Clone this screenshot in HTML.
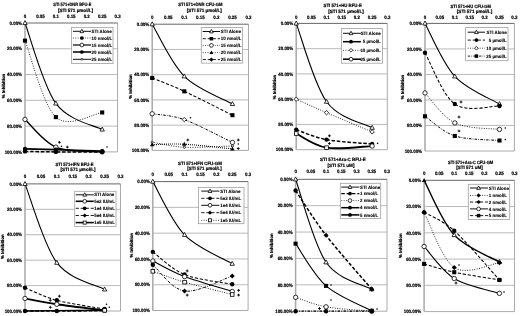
<!DOCTYPE html>
<html><head><meta charset="utf-8"><style>
html,body{margin:0;padding:0;background:#fff;}
svg{display:block;will-change:transform;}
text{font-family:"Liberation Sans", sans-serif;text-rendering:geometricPrecision;fill:#000;stroke:#000;stroke-width:0.2px;}
svg{filter:blur(0.3px);}
text.lg{stroke-width:0.1px;}
</style></head><body>
<svg width="520" height="316" viewBox="0 0 520 316">
<rect width="520" height="316" fill="#fff"/>
<text x="22" y="24.7" text-anchor="end" font-size="4.8" font-weight="bold" textLength="12.47" lengthAdjust="spacingAndGlyphs">0.00%</text>
<text x="22" y="50.48" text-anchor="end" font-size="4.8" font-weight="bold" textLength="14.92" lengthAdjust="spacingAndGlyphs">20.00%</text>
<line x1="25" y1="48.78" x2="117.6" y2="48.78" stroke="#a8a8a8" stroke-width="0.8"/>
<text x="22" y="76.26" text-anchor="end" font-size="4.8" font-weight="bold" textLength="14.92" lengthAdjust="spacingAndGlyphs">40.00%</text>
<line x1="25" y1="74.56" x2="117.6" y2="74.56" stroke="#a8a8a8" stroke-width="0.8"/>
<text x="22" y="102.04" text-anchor="end" font-size="4.8" font-weight="bold" textLength="14.92" lengthAdjust="spacingAndGlyphs">60.00%</text>
<line x1="25" y1="100.34" x2="117.6" y2="100.34" stroke="#a8a8a8" stroke-width="0.8"/>
<text x="22" y="127.82" text-anchor="end" font-size="4.8" font-weight="bold" textLength="14.92" lengthAdjust="spacingAndGlyphs">80.00%</text>
<line x1="25" y1="126.12" x2="117.6" y2="126.12" stroke="#a8a8a8" stroke-width="0.8"/>
<text x="22" y="153.6" text-anchor="end" font-size="4.8" font-weight="bold" textLength="17.37" lengthAdjust="spacingAndGlyphs">100.00%</text>
<path d="M117.6,23V151.9H25" fill="none" stroke="#a0a0a0" stroke-width="0.9"/>
<line x1="25" y1="23" x2="25" y2="151.9" stroke="#a8a8a8" stroke-width="1.5"/>
<line x1="25" y1="23" x2="117.6" y2="23" stroke="#555" stroke-width="0.9"/>
<text x="25" y="18.2" text-anchor="middle" font-size="4.8" font-weight="bold" textLength="2.45" lengthAdjust="spacingAndGlyphs">0</text>
<text x="40.43" y="18.2" text-anchor="middle" font-size="4.8" font-weight="bold" textLength="8.56" lengthAdjust="spacingAndGlyphs">0.05</text>
<text x="55.87" y="18.2" text-anchor="middle" font-size="4.8" font-weight="bold" textLength="6.12" lengthAdjust="spacingAndGlyphs">0.1</text>
<text x="71.3" y="18.2" text-anchor="middle" font-size="4.8" font-weight="bold" textLength="8.56" lengthAdjust="spacingAndGlyphs">0.15</text>
<text x="86.73" y="18.2" text-anchor="middle" font-size="4.8" font-weight="bold" textLength="6.12" lengthAdjust="spacingAndGlyphs">0.2</text>
<text x="102.17" y="18.2" text-anchor="middle" font-size="4.8" font-weight="bold" textLength="8.56" lengthAdjust="spacingAndGlyphs">0.25</text>
<text x="117.6" y="18.2" text-anchor="middle" font-size="4.8" font-weight="bold" textLength="6.12" lengthAdjust="spacingAndGlyphs">0.3</text>
<text x="53.3" y="6.25" text-anchor="start" font-size="4.7" font-weight="bold" textLength="38" lengthAdjust="spacingAndGlyphs">STI 571+DNR BFU-E</text>
<text x="57.9" y="12.05" text-anchor="start" font-size="4.7" font-weight="bold" textLength="35.1" lengthAdjust="spacingAndGlyphs">[STI 571 µmol/L]</text>
<text x="0" y="0" text-anchor="middle" font-size="4.4" font-weight="bold" textLength="24.5" lengthAdjust="spacingAndGlyphs" transform="translate(5.1,86) rotate(-90)">% Inhibition</text>
<path d="M25,23 C30.14,36.41 43.01,85.69 55.87,103.43 C68.73,121.18 94.45,125.13 102.17,129.47" fill="none" stroke="#000" stroke-width="1.1" stroke-linecap="butt"/>
<path d="M25,40.66 C30.14,53.4 43.01,105.13 55.87,117.1 C68.73,129.06 94.45,113.23 102.17,112.46" fill="none" stroke="#000" stroke-width="0.9" stroke-dasharray="0.9 1.5" stroke-linecap="butt"/>
<path d="M25,119.42 C30.14,124.04 43.01,141.72 55.87,147.13 C68.73,152.54 94.45,151.11 102.17,151.9" fill="none" stroke="#000" stroke-width="1.4" stroke-linecap="butt"/>
<path d="M25,148.94 C30.14,149.06 43.01,149.34 55.87,149.71 C68.73,150.07 94.45,150.89 102.17,151.13" fill="none" stroke="#000" stroke-width="1.8" stroke-linecap="butt"/>
<path d="M25,151.38 C30.14,151.47 43.01,151.81 55.87,151.9 C68.73,151.99 94.45,151.9 102.17,151.9" fill="none" stroke="#000" stroke-width="1.5" stroke-dasharray="3.5 1.8" stroke-linecap="butt"/>
<path d="M25,20.6 L27.2,24.6 L22.8,24.6Z" fill="#fff" stroke="#000" stroke-width="0.8"/>
<path d="M55.87,101.03 L58.07,105.03 L53.67,105.03Z" fill="#fff" stroke="#000" stroke-width="0.8"/>
<path d="M102.17,127.07 L104.37,131.07 L99.97,131.07Z" fill="#fff" stroke="#000" stroke-width="0.8"/>
<rect x="22.95" y="38.61" width="4.1" height="4.1" fill="#000"/>
<rect x="53.82" y="115.05" width="4.1" height="4.1" fill="#000"/>
<rect x="100.12" y="110.41" width="4.1" height="4.1" fill="#000"/>
<circle cx="25" cy="119.42" r="2.2" fill="#fff" stroke="#000" stroke-width="0.8"/>
<circle cx="55.87" cy="147.13" r="2.2" fill="#fff" stroke="#000" stroke-width="0.8"/>
<circle cx="102.17" cy="151.9" r="2.2" fill="#fff" stroke="#000" stroke-width="0.8"/>
<circle cx="25" cy="148.94" r="2.2" fill="#000"/>
<circle cx="55.87" cy="149.71" r="2.2" fill="#000"/>
<circle cx="102.17" cy="151.13" r="2.2" fill="#000"/>
<circle cx="25" cy="151.38" r="2.2" fill="#000"/>
<circle cx="55.87" cy="151.9" r="2.2" fill="#000"/>
<circle cx="102.17" cy="151.9" r="2.2" fill="#000"/>
<path d="M58,142.3H60.8M59.4,140.9V143.7" stroke="#000" stroke-width="0.9"/>
<path d="M65.9,147.1H68.7M67.3,145.7V148.5" stroke="#000" stroke-width="0.9"/>
<circle cx="61.5" cy="146.3" r="0.8" fill="#000"/>
<circle cx="107" cy="147" r="0.8" fill="#000"/>
<rect x="71.4" y="27.4" width="41.6" height="36.1" fill="#fff" stroke="#a0a0a0" stroke-width="0.8"/>
<path d="M72.9,31.3H91" fill="none" stroke="#000" stroke-width="0.94" stroke-linecap="butt"/>
<path d="M81.9,29.26 L83.77,32.66 L80.03,32.66Z" fill="#fff" stroke="#000" stroke-width="0.8"/>
<text x="91.6" y="32.95" text-anchor="start" font-size="4.75" font-weight="bold" class="lg" textLength="20.13" lengthAdjust="spacingAndGlyphs">STI Alone</text>
<path d="M72.9,38H91" fill="none" stroke="#000" stroke-width="0.77" stroke-dasharray="0.9 1.5" stroke-linecap="butt"/>
<circle cx="81.9" cy="38" r="1.87" fill="#000"/>
<text x="91.6" y="39.65" text-anchor="start" font-size="4.75" font-weight="bold" class="lg" textLength="20.54" lengthAdjust="spacingAndGlyphs">10 nmol/L</text>
<path d="M72.9,45H91" fill="none" stroke="#000" stroke-width="1.19" stroke-linecap="butt"/>
<circle cx="81.9" cy="45" r="1.87" fill="#fff" stroke="#000" stroke-width="0.8"/>
<text x="91.6" y="46.65" text-anchor="start" font-size="4.75" font-weight="bold" class="lg" textLength="20.54" lengthAdjust="spacingAndGlyphs">15 nmol/L</text>
<path d="M72.9,52H91" fill="none" stroke="#000" stroke-width="1.53" stroke-linecap="butt"/>
<circle cx="81.9" cy="52" r="1.87" fill="#000"/>
<text x="91.6" y="53.65" text-anchor="start" font-size="4.75" font-weight="bold" class="lg" textLength="20.54" lengthAdjust="spacingAndGlyphs">20 nmol/L</text>
<path d="M72.9,59.3H91" fill="none" stroke="#000" stroke-width="0.94" stroke-linecap="butt"/>
<circle cx="81.9" cy="59.3" r="0.94" fill="#fff" stroke="#000" stroke-width="0.7"/>
<text x="91.6" y="60.95" text-anchor="start" font-size="4.75" font-weight="bold" class="lg" textLength="20.54" lengthAdjust="spacingAndGlyphs">25 nmol/L</text>
<text x="149.2" y="25.9" text-anchor="end" font-size="4.8" font-weight="bold" textLength="12.47" lengthAdjust="spacingAndGlyphs">0.00%</text>
<text x="149.2" y="51.14" text-anchor="end" font-size="4.8" font-weight="bold" textLength="14.92" lengthAdjust="spacingAndGlyphs">20.00%</text>
<line x1="152.2" y1="49.44" x2="248.5" y2="49.44" stroke="#a8a8a8" stroke-width="0.8"/>
<text x="149.2" y="76.38" text-anchor="end" font-size="4.8" font-weight="bold" textLength="14.92" lengthAdjust="spacingAndGlyphs">40.00%</text>
<line x1="152.2" y1="74.68" x2="248.5" y2="74.68" stroke="#a8a8a8" stroke-width="0.8"/>
<text x="149.2" y="101.62" text-anchor="end" font-size="4.8" font-weight="bold" textLength="14.92" lengthAdjust="spacingAndGlyphs">60.00%</text>
<line x1="152.2" y1="99.92" x2="248.5" y2="99.92" stroke="#a8a8a8" stroke-width="0.8"/>
<text x="149.2" y="126.86" text-anchor="end" font-size="4.8" font-weight="bold" textLength="14.92" lengthAdjust="spacingAndGlyphs">80.00%</text>
<line x1="152.2" y1="125.16" x2="248.5" y2="125.16" stroke="#a8a8a8" stroke-width="0.8"/>
<text x="149.2" y="152.1" text-anchor="end" font-size="4.8" font-weight="bold" textLength="17.37" lengthAdjust="spacingAndGlyphs">100.00%</text>
<path d="M248.5,24.2V150.4H152.2" fill="none" stroke="#a0a0a0" stroke-width="0.9"/>
<line x1="152.2" y1="24.2" x2="152.2" y2="150.4" stroke="#a8a8a8" stroke-width="1.5"/>
<line x1="152.2" y1="24.2" x2="248.5" y2="24.2" stroke="#555" stroke-width="0.9"/>
<text x="152.2" y="18.9" text-anchor="middle" font-size="4.8" font-weight="bold" textLength="2.45" lengthAdjust="spacingAndGlyphs">0</text>
<text x="168.25" y="18.9" text-anchor="middle" font-size="4.8" font-weight="bold" textLength="8.56" lengthAdjust="spacingAndGlyphs">0.05</text>
<text x="184.3" y="18.9" text-anchor="middle" font-size="4.8" font-weight="bold" textLength="6.12" lengthAdjust="spacingAndGlyphs">0.1</text>
<text x="200.35" y="18.9" text-anchor="middle" font-size="4.8" font-weight="bold" textLength="8.56" lengthAdjust="spacingAndGlyphs">0.15</text>
<text x="216.4" y="18.9" text-anchor="middle" font-size="4.8" font-weight="bold" textLength="6.12" lengthAdjust="spacingAndGlyphs">0.2</text>
<text x="232.45" y="18.9" text-anchor="middle" font-size="4.8" font-weight="bold" textLength="8.56" lengthAdjust="spacingAndGlyphs">0.25</text>
<text x="248.5" y="18.9" text-anchor="middle" font-size="4.8" font-weight="bold" textLength="6.12" lengthAdjust="spacingAndGlyphs">0.3</text>
<text x="178.3" y="6.05" text-anchor="start" font-size="4.7" font-weight="bold" textLength="44.2" lengthAdjust="spacingAndGlyphs">STI 571+DNR CFU-GM</text>
<text x="186.8" y="11.75" text-anchor="start" font-size="4.7" font-weight="bold" textLength="35" lengthAdjust="spacingAndGlyphs">[STI 571 µmol/L]</text>
<text x="0" y="0" text-anchor="middle" font-size="4.4" font-weight="bold" textLength="24.5" lengthAdjust="spacingAndGlyphs" transform="translate(132.4,86.5) rotate(-90)">% Inhibition</text>
<path d="M152.2,24.2 C157.55,32.89 170.93,63.03 184.3,76.32 C197.68,89.61 224.42,99.35 232.45,103.96" fill="none" stroke="#000" stroke-width="1.1" stroke-linecap="butt"/>
<path d="M152.2,77.96 C157.55,80.19 170.93,85.13 184.3,91.34 C197.68,97.54 224.42,111.21 232.45,115.19" fill="none" stroke="#000" stroke-width="1.05" stroke-dasharray="3.2 1.8" stroke-linecap="butt"/>
<path d="M152.2,113.8 C157.55,114.77 170.93,114.83 184.3,119.61 C197.68,124.38 224.42,138.64 232.45,142.45" fill="none" stroke="#000" stroke-width="1" stroke-dasharray="2.5 1.2 0.7 1.2" stroke-linecap="butt"/>

<path d="M152.2,142.2 C157.55,143.04 170.93,146.61 184.3,147.25 C197.68,147.88 224.42,146.19 232.45,145.98" fill="none" stroke="#000" stroke-width="0.9" stroke-dasharray="0.9 1.5" stroke-linecap="butt"/>
<path d="M152.2,144.72 C157.55,144.64 170.93,143.52 184.3,144.22 C197.68,144.91 224.42,148.11 232.45,148.89" fill="none" stroke="#000" stroke-width="1.2" stroke-dasharray="0.9 1.1" stroke-linecap="butt"/>
<path d="M152.2,21.8 L154.4,25.8 L150,25.8Z" fill="#fff" stroke="#000" stroke-width="0.8"/>
<path d="M184.3,73.92 L186.5,77.92 L182.1,77.92Z" fill="#fff" stroke="#000" stroke-width="0.8"/>
<path d="M232.45,101.56 L234.65,105.56 L230.25,105.56Z" fill="#fff" stroke="#000" stroke-width="0.8"/>
<rect x="150.15" y="75.91" width="4.1" height="4.1" fill="#000"/>
<rect x="182.25" y="89.29" width="4.1" height="4.1" fill="#000"/>
<rect x="230.4" y="113.14" width="4.1" height="4.1" fill="#000"/>
<circle cx="152.2" cy="113.8" r="2.2" fill="#fff" stroke="#000" stroke-width="0.8"/>
<circle cx="232.45" cy="142.45" r="2.2" fill="#fff" stroke="#000" stroke-width="0.8"/>
<path d="M184.3,117.41 L186.5,119.61 L184.3,121.81 L182.1,119.61Z" fill="#fff" stroke="#000" stroke-width="0.8"/>
<circle cx="152.2" cy="142.2" r="1.1" fill="#fff" stroke="#000" stroke-width="0.7"/>
<circle cx="184.3" cy="147.25" r="1.1" fill="#fff" stroke="#000" stroke-width="0.7"/>
<circle cx="232.45" cy="145.98" r="1.1" fill="#fff" stroke="#000" stroke-width="0.7"/>
<path d="M152.2,142.32 L154.4,146.32 L150,146.32Z" fill="#000"/>
<path d="M184.3,141.82 L186.5,145.82 L182.1,145.82Z" fill="#000"/>
<path d="M232.45,146.49 L234.65,150.49 L230.25,150.49Z" fill="#000"/>
<path d="M186.4,140H189.2M187.8,138.6V141.4" stroke="#000" stroke-width="0.9"/>
<path d="M236.9,140H239.7M238.3,138.6V141.4" stroke="#000" stroke-width="0.9"/>
<path d="M236.9,148.5H239.7M238.3,147.1V149.9" stroke="#000" stroke-width="0.9"/>
<circle cx="238.3" cy="144" r="0.8" fill="#000"/>
<circle cx="190.5" cy="117.8" r="0.8" fill="#000"/>
<rect x="201.3" y="27.6" width="41.3" height="35.5" fill="#fff" stroke="#a0a0a0" stroke-width="0.8"/>
<path d="M202.7,31.5H220" fill="none" stroke="#000" stroke-width="0.94" stroke-linecap="butt"/>
<path d="M211.4,29.46 L213.27,32.86 L209.53,32.86Z" fill="#fff" stroke="#000" stroke-width="0.8"/>
<text x="220.8" y="33.15" text-anchor="start" font-size="4.75" font-weight="bold" class="lg" textLength="20.13" lengthAdjust="spacingAndGlyphs">STI Alone</text>
<path d="M202.7,38.7H220" fill="none" stroke="#000" stroke-width="0.89" stroke-dasharray="3.2 1.8" stroke-linecap="butt"/>
<rect x="209.66" y="36.96" width="3.48" height="3.48" fill="#000"/>
<text x="220.8" y="40.35" text-anchor="start" font-size="4.75" font-weight="bold" class="lg" textLength="20.54" lengthAdjust="spacingAndGlyphs">10 nmol/L</text>
<path d="M202.7,45.4H220" fill="none" stroke="#000" stroke-width="0.77" stroke-dasharray="0.9 1.5" stroke-linecap="butt"/>
<circle cx="211.4" cy="45.4" r="1.87" fill="#fff" stroke="#000" stroke-width="0.8"/>
<text x="220.8" y="47.05" text-anchor="start" font-size="4.75" font-weight="bold" class="lg" textLength="20.54" lengthAdjust="spacingAndGlyphs">15 nmol/L</text>
<path d="M202.7,52.6H220" fill="none" stroke="#000" stroke-width="0.77" stroke-dasharray="0.9 1.5" stroke-linecap="butt"/>
<path d="M211.4,50.56 L213.27,53.96 L209.53,53.96Z" fill="#000"/>
<text x="220.8" y="54.25" text-anchor="start" font-size="4.75" font-weight="bold" class="lg" textLength="20.54" lengthAdjust="spacingAndGlyphs">20 nmol/L</text>
<path d="M202.7,59.6H220" fill="none" stroke="#000" stroke-width="0.89" stroke-dasharray="3.2 1.8" stroke-linecap="butt"/>
<path d="M211.4,57.48 L213.53,59.6 L211.4,61.73 L209.28,59.6Z" fill="#000"/>
<text x="220.8" y="61.25" text-anchor="start" font-size="4.75" font-weight="bold" class="lg" textLength="20.54" lengthAdjust="spacingAndGlyphs">25 nmol/L</text>
<text x="293.2" y="25.1" text-anchor="end" font-size="4.8" font-weight="bold" textLength="12.47" lengthAdjust="spacingAndGlyphs">0.00%</text>
<text x="293.2" y="50.36" text-anchor="end" font-size="4.8" font-weight="bold" textLength="14.92" lengthAdjust="spacingAndGlyphs">20.00%</text>
<line x1="296.2" y1="48.66" x2="387.3" y2="48.66" stroke="#a8a8a8" stroke-width="0.8"/>
<text x="293.2" y="75.62" text-anchor="end" font-size="4.8" font-weight="bold" textLength="14.92" lengthAdjust="spacingAndGlyphs">40.00%</text>
<line x1="296.2" y1="73.92" x2="387.3" y2="73.92" stroke="#a8a8a8" stroke-width="0.8"/>
<text x="293.2" y="100.88" text-anchor="end" font-size="4.8" font-weight="bold" textLength="14.92" lengthAdjust="spacingAndGlyphs">60.00%</text>
<line x1="296.2" y1="99.18" x2="387.3" y2="99.18" stroke="#a8a8a8" stroke-width="0.8"/>
<text x="293.2" y="126.14" text-anchor="end" font-size="4.8" font-weight="bold" textLength="14.92" lengthAdjust="spacingAndGlyphs">80.00%</text>
<line x1="296.2" y1="124.44" x2="387.3" y2="124.44" stroke="#a8a8a8" stroke-width="0.8"/>
<text x="293.2" y="151.4" text-anchor="end" font-size="4.8" font-weight="bold" textLength="17.37" lengthAdjust="spacingAndGlyphs">100.00%</text>
<path d="M387.3,23.4V149.7H296.2" fill="none" stroke="#a0a0a0" stroke-width="0.9"/>
<line x1="296.2" y1="23.4" x2="296.2" y2="149.7" stroke="#a8a8a8" stroke-width="1.5"/>
<line x1="296.2" y1="23.4" x2="387.3" y2="23.4" stroke="#555" stroke-width="0.9"/>
<text x="296.2" y="18.5" text-anchor="middle" font-size="4.8" font-weight="bold" textLength="2.45" lengthAdjust="spacingAndGlyphs">0</text>
<text x="311.38" y="18.5" text-anchor="middle" font-size="4.8" font-weight="bold" textLength="8.56" lengthAdjust="spacingAndGlyphs">0.05</text>
<text x="326.57" y="18.5" text-anchor="middle" font-size="4.8" font-weight="bold" textLength="6.12" lengthAdjust="spacingAndGlyphs">0.1</text>
<text x="341.75" y="18.5" text-anchor="middle" font-size="4.8" font-weight="bold" textLength="8.56" lengthAdjust="spacingAndGlyphs">0.15</text>
<text x="356.93" y="18.5" text-anchor="middle" font-size="4.8" font-weight="bold" textLength="6.12" lengthAdjust="spacingAndGlyphs">0.2</text>
<text x="372.12" y="18.5" text-anchor="middle" font-size="4.8" font-weight="bold" textLength="8.56" lengthAdjust="spacingAndGlyphs">0.25</text>
<text x="387.3" y="18.5" text-anchor="middle" font-size="4.8" font-weight="bold" textLength="6.12" lengthAdjust="spacingAndGlyphs">0.3</text>
<text x="323.5" y="7.35" text-anchor="start" font-size="4.7" font-weight="bold" textLength="38.3" lengthAdjust="spacingAndGlyphs">STI 571+HU BFU-E</text>
<text x="328.2" y="13.45" text-anchor="start" font-size="4.7" font-weight="bold" textLength="35.6" lengthAdjust="spacingAndGlyphs">[STI 571 µmol/L]</text>
<text x="0" y="0" text-anchor="middle" font-size="4.4" font-weight="bold" textLength="24.5" lengthAdjust="spacingAndGlyphs" transform="translate(276,87) rotate(-90)">% Inhibition</text>
<path d="M296.2,23.4 C301.26,36.45 313.91,84.32 326.57,101.71 C339.22,119.09 364.52,123.39 372.12,127.72" fill="none" stroke="#000" stroke-width="1.1" stroke-linecap="butt"/>
<path d="M296.2,99.18 C301.26,101.43 313.91,107.24 326.57,112.69 C339.22,118.15 364.52,128.69 372.12,131.89" fill="none" stroke="#000" stroke-width="0.9" stroke-dasharray="0.9 1.5" stroke-linecap="butt"/>
<path d="M296.2,129.62 C301.26,131.28 313.91,137.2 326.57,139.6 C339.22,142 364.52,143.28 372.12,144.02" fill="none" stroke="#000" stroke-width="1.5" stroke-dasharray="3.5 1.8" stroke-linecap="butt"/>
<path d="M296.2,133.53 C301.26,135.89 313.91,145.6 326.57,147.68 C339.22,149.76 364.52,146.31 372.12,146.04" fill="none" stroke="#000" stroke-width="1.8" stroke-linecap="butt"/>

<path d="M296.2,21 L298.4,25 L294,25Z" fill="#fff" stroke="#000" stroke-width="0.8"/>
<path d="M326.57,99.31 L328.77,103.31 L324.37,103.31Z" fill="#fff" stroke="#000" stroke-width="0.8"/>
<path d="M372.12,125.32 L374.32,129.32 L369.92,129.32Z" fill="#fff" stroke="#000" stroke-width="0.8"/>
<path d="M296.2,96.98 L298.4,99.18 L296.2,101.38 L294,99.18Z" fill="#fff" stroke="#000" stroke-width="0.8"/>
<path d="M326.57,110.49 L328.77,112.69 L326.57,114.89 L324.37,112.69Z" fill="#fff" stroke="#000" stroke-width="0.8"/>
<path d="M372.12,129.69 L374.32,131.89 L372.12,134.09 L369.92,131.89Z" fill="#fff" stroke="#000" stroke-width="0.8"/>
<circle cx="296.2" cy="129.62" r="2.2" fill="#000"/>
<circle cx="326.57" cy="139.6" r="2.2" fill="#000"/>
<circle cx="372.12" cy="144.02" r="2.2" fill="#000"/>
<rect x="294.4" y="131.73" width="3.6" height="3.6" fill="#fff" stroke="#000" stroke-width="0.8"/>
<rect x="324.77" y="145.88" width="3.6" height="3.6" fill="#fff" stroke="#000" stroke-width="0.8"/>
<circle cx="372.12" cy="146.04" r="2.2" fill="#fff" stroke="#000" stroke-width="0.8"/>
<path d="M328,135.8H330.8M329.4,134.4V137.2" stroke="#000" stroke-width="0.9"/>
<path d="M328,143.5H330.8M329.4,142.1V144.9" stroke="#000" stroke-width="0.9"/>
<circle cx="377.6" cy="143.4" r="0.8" fill="#000"/>
<rect x="341.4" y="28.6" width="41.1" height="34.6" fill="#fff" stroke="#a0a0a0" stroke-width="0.8"/>
<path d="M343,33.3H360.9" fill="none" stroke="#000" stroke-width="0.94" stroke-linecap="butt"/>
<path d="M351,31.26 L352.87,34.66 L349.13,34.66Z" fill="#fff" stroke="#000" stroke-width="0.8"/>
<text x="380.8" y="34.95" text-anchor="end" font-size="4.75" font-weight="bold" class="lg" textLength="20.13" lengthAdjust="spacingAndGlyphs">STI Alone</text>
<path d="M343,41.7H360.9" fill="none" stroke="#000" stroke-width="1.53" stroke-linecap="butt"/>
<circle cx="351" cy="41.7" r="1.87" fill="#000"/>
<text x="380.8" y="43.35" text-anchor="end" font-size="4.75" font-weight="bold" class="lg" textLength="17.94" lengthAdjust="spacingAndGlyphs">5 µmol/L</text>
<path d="M343,50.3H360.9" fill="none" stroke="#000" stroke-width="0.77" stroke-dasharray="0.9 1.5" stroke-linecap="butt"/>
<path d="M351,48.43 L352.87,50.3 L351,52.17 L349.13,50.3Z" fill="#fff" stroke="#000" stroke-width="0.8"/>
<text x="380.8" y="51.95" text-anchor="end" font-size="4.75" font-weight="bold" class="lg" textLength="20.38" lengthAdjust="spacingAndGlyphs">10 µmol/L</text>
<path d="M343,59.2H360.9" fill="none" stroke="#000" stroke-width="1.53" stroke-linecap="butt"/>
<circle cx="351" cy="59.2" r="1.87" fill="#fff" stroke="#000" stroke-width="0.8"/>
<text x="380.8" y="60.85" text-anchor="end" font-size="4.75" font-weight="bold" class="lg" textLength="20.38" lengthAdjust="spacingAndGlyphs">25 µmol/L</text>
<text x="422" y="25.1" text-anchor="end" font-size="4.8" font-weight="bold" textLength="12.47" lengthAdjust="spacingAndGlyphs">0.00%</text>
<text x="422" y="50.62" text-anchor="end" font-size="4.8" font-weight="bold" textLength="14.92" lengthAdjust="spacingAndGlyphs">20.00%</text>
<line x1="425" y1="48.92" x2="514.4" y2="48.92" stroke="#a8a8a8" stroke-width="0.8"/>
<text x="422" y="76.14" text-anchor="end" font-size="4.8" font-weight="bold" textLength="14.92" lengthAdjust="spacingAndGlyphs">40.00%</text>
<line x1="425" y1="74.44" x2="514.4" y2="74.44" stroke="#a8a8a8" stroke-width="0.8"/>
<text x="422" y="101.66" text-anchor="end" font-size="4.8" font-weight="bold" textLength="14.92" lengthAdjust="spacingAndGlyphs">60.00%</text>
<line x1="425" y1="99.96" x2="514.4" y2="99.96" stroke="#a8a8a8" stroke-width="0.8"/>
<text x="422" y="127.18" text-anchor="end" font-size="4.8" font-weight="bold" textLength="14.92" lengthAdjust="spacingAndGlyphs">80.00%</text>
<line x1="425" y1="125.48" x2="514.4" y2="125.48" stroke="#a8a8a8" stroke-width="0.8"/>
<text x="422" y="152.7" text-anchor="end" font-size="4.8" font-weight="bold" textLength="17.37" lengthAdjust="spacingAndGlyphs">100.00%</text>
<path d="M514.4,23.4V151H425" fill="none" stroke="#a0a0a0" stroke-width="0.9"/>
<line x1="425" y1="23.4" x2="425" y2="151" stroke="#a8a8a8" stroke-width="1.5"/>
<line x1="425" y1="23.4" x2="514.4" y2="23.4" stroke="#555" stroke-width="0.9"/>
<text x="425" y="18.5" text-anchor="middle" font-size="4.8" font-weight="bold" textLength="2.45" lengthAdjust="spacingAndGlyphs">0</text>
<text x="439.9" y="18.5" text-anchor="middle" font-size="4.8" font-weight="bold" textLength="8.56" lengthAdjust="spacingAndGlyphs">0.05</text>
<text x="454.8" y="18.5" text-anchor="middle" font-size="4.8" font-weight="bold" textLength="6.12" lengthAdjust="spacingAndGlyphs">0.1</text>
<text x="469.7" y="18.5" text-anchor="middle" font-size="4.8" font-weight="bold" textLength="8.56" lengthAdjust="spacingAndGlyphs">0.15</text>
<text x="484.6" y="18.5" text-anchor="middle" font-size="4.8" font-weight="bold" textLength="6.12" lengthAdjust="spacingAndGlyphs">0.2</text>
<text x="499.5" y="18.5" text-anchor="middle" font-size="4.8" font-weight="bold" textLength="8.56" lengthAdjust="spacingAndGlyphs">0.25</text>
<text x="514.4" y="18.5" text-anchor="middle" font-size="4.8" font-weight="bold" textLength="6.12" lengthAdjust="spacingAndGlyphs">0.3</text>
<text x="450.5" y="7.75" text-anchor="start" font-size="4.7" font-weight="bold" textLength="40.4" lengthAdjust="spacingAndGlyphs">STI 571+HU CFU-GM</text>
<text x="456.8" y="13.45" text-anchor="start" font-size="4.7" font-weight="bold" textLength="35.4" lengthAdjust="spacingAndGlyphs">[STI 571 µmol/L]</text>
<text x="0" y="0" text-anchor="middle" font-size="4.4" font-weight="bold" textLength="24.5" lengthAdjust="spacingAndGlyphs" transform="translate(404.1,87) rotate(-90)">% Inhibition</text>
<path d="M425,23.4 C429.97,32.23 442.38,62.91 454.8,76.35 C467.22,89.79 492.05,99.43 499.5,104.04" fill="none" stroke="#000" stroke-width="1.1" stroke-linecap="butt"/>
<path d="M425,52.75 C429.97,61.3 442.38,95.17 454.8,104.04 C467.22,112.91 492.05,105.64 499.5,105.96" fill="none" stroke="#000" stroke-width="1.05" stroke-dasharray="3.2 1.8" stroke-linecap="butt"/>
<path d="M425,92.94 C429.97,97.94 442.38,116.85 454.8,122.93 C467.22,129.01 492.05,128.35 499.5,129.44" fill="none" stroke="#000" stroke-width="0.9" stroke-dasharray="0.9 1.5" stroke-linecap="butt"/>
<path d="M425,116.29 C429.97,119.57 442.38,131.9 454.8,135.94 C467.22,139.98 492.05,139.77 499.5,140.54" fill="none" stroke="#000" stroke-width="1" stroke-dasharray="2.5 1.2 0.7 1.2" stroke-linecap="butt"/>
<path d="M425,21 L427.2,25 L422.8,25Z" fill="#fff" stroke="#000" stroke-width="0.8"/>
<path d="M454.8,73.95 L457,77.95 L452.6,77.95Z" fill="#fff" stroke="#000" stroke-width="0.8"/>
<path d="M499.5,101.64 L501.7,105.64 L497.3,105.64Z" fill="#fff" stroke="#000" stroke-width="0.8"/>
<circle cx="425" cy="52.75" r="2.2" fill="#000"/>
<circle cx="454.8" cy="104.04" r="2.2" fill="#000"/>
<circle cx="499.5" cy="105.96" r="2.2" fill="#000"/>
<circle cx="425" cy="92.94" r="2.2" fill="#fff" stroke="#000" stroke-width="0.8"/>
<circle cx="454.8" cy="122.93" r="2.2" fill="#fff" stroke="#000" stroke-width="0.8"/>
<circle cx="499.5" cy="129.44" r="2.2" fill="#fff" stroke="#000" stroke-width="0.8"/>
<rect x="422.95" y="114.24" width="4.1" height="4.1" fill="#000"/>
<rect x="452.75" y="133.89" width="4.1" height="4.1" fill="#000"/>
<rect x="497.45" y="138.49" width="4.1" height="4.1" fill="#000"/>
<path d="M459.6,102H462.4M461,100.6V103.4" stroke="#000" stroke-width="0.9"/>
<path d="M457.6,117H460.4M459,115.6V118.4" stroke="#000" stroke-width="0.9"/>
<path d="M457.6,131H460.4M459,129.6V132.4" stroke="#000" stroke-width="0.9"/>
<circle cx="505.3" cy="128" r="0.8" fill="#000"/>
<circle cx="505.3" cy="139.5" r="0.8" fill="#000"/>
<rect x="465.6" y="27.6" width="42.4" height="33.1" fill="#fff" stroke="#a0a0a0" stroke-width="0.8"/>
<path d="M467.7,32.2H485" fill="none" stroke="#000" stroke-width="0.94" stroke-linecap="butt"/>
<path d="M476.4,30.16 L478.27,33.56 L474.53,33.56Z" fill="#fff" stroke="#000" stroke-width="0.8"/>
<text x="506.7" y="33.85" text-anchor="end" font-size="4.75" font-weight="bold" class="lg" textLength="20.13" lengthAdjust="spacingAndGlyphs">STI Alone</text>
<path d="M467.7,40.1H485" fill="none" stroke="#000" stroke-width="0.89" stroke-dasharray="3.2 1.8" stroke-linecap="butt"/>
<circle cx="476.4" cy="40.1" r="1.87" fill="#000"/>
<text x="506.7" y="41.75" text-anchor="end" font-size="4.75" font-weight="bold" class="lg" textLength="17.94" lengthAdjust="spacingAndGlyphs">5 µmol/L</text>
<path d="M467.7,48.2H485" fill="none" stroke="#000" stroke-width="0.77" stroke-dasharray="0.9 1.5" stroke-linecap="butt"/>
<path d="M476.4,46.33 L478.27,48.2 L476.4,50.07 L474.53,48.2Z" fill="#fff" stroke="#000" stroke-width="0.8"/>
<text x="506.7" y="49.85" text-anchor="end" font-size="4.75" font-weight="bold" class="lg" textLength="20.38" lengthAdjust="spacingAndGlyphs">10 µmol/L</text>
<path d="M467.7,56.1H485" fill="none" stroke="#000" stroke-width="0.85" stroke-dasharray="2.5 1.2 0.7 1.2" stroke-linecap="butt"/>
<rect x="474.66" y="54.36" width="3.48" height="3.48" fill="#000"/>
<text x="506.7" y="57.75" text-anchor="end" font-size="4.75" font-weight="bold" class="lg" textLength="20.38" lengthAdjust="spacingAndGlyphs">25 µmol/L</text>
<text x="22" y="185.6" text-anchor="end" font-size="4.8" font-weight="bold" textLength="12.47" lengthAdjust="spacingAndGlyphs">0.00%</text>
<text x="22" y="211.02" text-anchor="end" font-size="4.8" font-weight="bold" textLength="14.92" lengthAdjust="spacingAndGlyphs">20.00%</text>
<line x1="25" y1="209.32" x2="120.5" y2="209.32" stroke="#a8a8a8" stroke-width="0.8"/>
<text x="22" y="236.44" text-anchor="end" font-size="4.8" font-weight="bold" textLength="14.92" lengthAdjust="spacingAndGlyphs">40.00%</text>
<line x1="25" y1="234.74" x2="120.5" y2="234.74" stroke="#a8a8a8" stroke-width="0.8"/>
<text x="22" y="261.86" text-anchor="end" font-size="4.8" font-weight="bold" textLength="14.92" lengthAdjust="spacingAndGlyphs">60.00%</text>
<line x1="25" y1="260.16" x2="120.5" y2="260.16" stroke="#a8a8a8" stroke-width="0.8"/>
<text x="22" y="287.28" text-anchor="end" font-size="4.8" font-weight="bold" textLength="14.92" lengthAdjust="spacingAndGlyphs">80.00%</text>
<line x1="25" y1="285.58" x2="120.5" y2="285.58" stroke="#a8a8a8" stroke-width="0.8"/>
<text x="22" y="312.7" text-anchor="end" font-size="4.8" font-weight="bold" textLength="17.37" lengthAdjust="spacingAndGlyphs">100.00%</text>
<path d="M120.5,183.9V311H25" fill="none" stroke="#a0a0a0" stroke-width="0.9"/>
<line x1="25" y1="183.9" x2="25" y2="311" stroke="#a8a8a8" stroke-width="1.5"/>
<line x1="25" y1="183.9" x2="120.5" y2="183.9" stroke="#555" stroke-width="0.9"/>
<text x="25" y="178" text-anchor="middle" font-size="4.8" font-weight="bold" textLength="2.45" lengthAdjust="spacingAndGlyphs">0</text>
<text x="40.92" y="178" text-anchor="middle" font-size="4.8" font-weight="bold" textLength="8.56" lengthAdjust="spacingAndGlyphs">0.05</text>
<text x="56.83" y="178" text-anchor="middle" font-size="4.8" font-weight="bold" textLength="6.12" lengthAdjust="spacingAndGlyphs">0.1</text>
<text x="72.75" y="178" text-anchor="middle" font-size="4.8" font-weight="bold" textLength="8.56" lengthAdjust="spacingAndGlyphs">0.15</text>
<text x="88.67" y="178" text-anchor="middle" font-size="4.8" font-weight="bold" textLength="6.12" lengthAdjust="spacingAndGlyphs">0.2</text>
<text x="104.58" y="178" text-anchor="middle" font-size="4.8" font-weight="bold" textLength="8.56" lengthAdjust="spacingAndGlyphs">0.25</text>
<text x="120.5" y="178" text-anchor="middle" font-size="4.8" font-weight="bold" textLength="6.12" lengthAdjust="spacingAndGlyphs">0.3</text>
<text x="55.5" y="166.05" text-anchor="start" font-size="4.7" font-weight="bold" textLength="38" lengthAdjust="spacingAndGlyphs">STI 571+IFN BFU-E</text>
<text x="60.5" y="171.45" text-anchor="start" font-size="4.7" font-weight="bold" textLength="35" lengthAdjust="spacingAndGlyphs">[STI 571 µmol/L]</text>
<text x="0" y="0" text-anchor="middle" font-size="4.4" font-weight="bold" textLength="24.5" lengthAdjust="spacingAndGlyphs" transform="translate(4.3,246.7) rotate(-90)">% Inhibition</text>
<path d="M25,183.9 C30.31,197.03 43.57,245.12 56.83,262.7 C70.1,280.28 96.63,284.94 104.58,289.39" fill="none" stroke="#000" stroke-width="1.1" stroke-linecap="butt"/>
<path d="M25,287.74 C30.31,289.84 43.57,296.79 56.83,300.32 C70.1,303.86 96.63,307.53 104.58,308.97" fill="none" stroke="#000" stroke-width="1.05" stroke-dasharray="3.2 1.8" stroke-linecap="butt"/>
<path d="M25,298.42 C30.31,299.39 43.57,302.27 56.83,304.26 C70.1,306.25 96.63,309.35 104.58,310.36" fill="none" stroke="#000" stroke-width="1.8" stroke-linecap="butt"/>
<path d="M25,311 C30.31,310.94 43.57,310.72 56.83,310.62 C70.1,310.51 96.63,310.41 104.58,310.36" fill="none" stroke="#000" stroke-width="1.4" stroke-linecap="butt"/>
<path d="M25,311 C30.31,311 43.57,311.04 56.83,311 C70.1,310.96 96.63,310.79 104.58,310.75" fill="none" stroke="#000" stroke-width="1.5" stroke-dasharray="3.5 1.8" stroke-linecap="butt"/>

<path d="M25,181.5 L27.2,185.5 L22.8,185.5Z" fill="#fff" stroke="#000" stroke-width="0.8"/>
<path d="M56.83,260.3 L59.03,264.3 L54.63,264.3Z" fill="#fff" stroke="#000" stroke-width="0.8"/>
<path d="M104.58,286.99 L106.78,290.99 L102.38,290.99Z" fill="#fff" stroke="#000" stroke-width="0.8"/>
<circle cx="25" cy="287.74" r="2.2" fill="#000"/>
<circle cx="56.83" cy="300.32" r="2.2" fill="#000"/>
<circle cx="104.58" cy="308.97" r="2.2" fill="#000"/>
<circle cx="25" cy="298.42" r="2.2" fill="#fff" stroke="#000" stroke-width="0.8"/>
<circle cx="56.83" cy="304.26" r="2.2" fill="#fff" stroke="#000" stroke-width="0.8"/>
<circle cx="104.58" cy="310.36" r="2.2" fill="#fff" stroke="#000" stroke-width="0.8"/>
<circle cx="25" cy="311" r="2.2" fill="#000"/>
<circle cx="56.83" cy="311" r="2.2" fill="#000"/>
<rect x="102.78" y="308.56" width="3.6" height="3.6" fill="#fff" stroke="#000" stroke-width="0.8"/>
<path d="M58,296.2H60.8M59.4,294.8V297.6" stroke="#000" stroke-width="0.9"/>
<path d="M48.9,300.3H51.7M50.3,298.9V301.7" stroke="#000" stroke-width="0.9"/>
<path d="M48.9,307.3H51.7M50.3,305.9V308.7" stroke="#000" stroke-width="0.9"/>
<circle cx="106.5" cy="304.3" r="0.8" fill="#000"/>
<circle cx="109.3" cy="307.3" r="0.8" fill="#000"/>
<rect x="74.7" y="191.3" width="41.3" height="35.1" fill="#fff" stroke="#a0a0a0" stroke-width="0.8"/>
<path d="M75.7,194.8H93.8" fill="none" stroke="#000" stroke-width="0.94" stroke-linecap="butt"/>
<path d="M84.7,192.76 L86.57,196.16 L82.83,196.16Z" fill="#fff" stroke="#000" stroke-width="0.8"/>
<text x="94.2" y="196.45" text-anchor="start" font-size="4.75" font-weight="bold" class="lg" textLength="20.13" lengthAdjust="spacingAndGlyphs">STI Alone</text>
<path d="M75.7,201.3H93.8" fill="none" stroke="#000" stroke-width="1.53" stroke-linecap="butt"/>
<circle cx="84.7" cy="201.3" r="1.87" fill="#fff" stroke="#000" stroke-width="0.8"/>
<text x="94.2" y="202.95" text-anchor="start" font-size="4.75" font-weight="bold" class="lg" textLength="20.79" lengthAdjust="spacingAndGlyphs">5e3 IU/mL</text>
<path d="M75.7,208.3H93.8" fill="none" stroke="#000" stroke-width="0.89" stroke-dasharray="3.2 1.8" stroke-linecap="butt"/>
<circle cx="84.7" cy="208.3" r="1.87" fill="#000"/>
<text x="94.2" y="209.95" text-anchor="start" font-size="4.75" font-weight="bold" class="lg" textLength="20.79" lengthAdjust="spacingAndGlyphs">1e4 IU/mL</text>
<path d="M75.7,215.5H93.8" fill="none" stroke="#000" stroke-width="0.89" stroke-dasharray="3.2 1.8" stroke-linecap="butt"/>
<path d="M84.7,213.38 L86.83,215.5 L84.7,217.62 L82.58,215.5Z" fill="#000"/>
<text x="94.2" y="217.15" text-anchor="start" font-size="4.75" font-weight="bold" class="lg" textLength="20.79" lengthAdjust="spacingAndGlyphs">5e4 IU/mL</text>
<path d="M75.7,222.6H93.8" fill="none" stroke="#000" stroke-width="1.53" stroke-linecap="butt"/>
<rect x="83.17" y="221.07" width="3.06" height="3.06" fill="#fff" stroke="#000" stroke-width="0.8"/>
<text x="94.2" y="224.25" text-anchor="start" font-size="4.75" font-weight="bold" class="lg" textLength="20.79" lengthAdjust="spacingAndGlyphs">1e5 IU/mL</text>
<text x="149.8" y="183.3" text-anchor="end" font-size="4.8" font-weight="bold" textLength="12.47" lengthAdjust="spacingAndGlyphs">0.00%</text>
<text x="149.8" y="209.08" text-anchor="end" font-size="4.8" font-weight="bold" textLength="14.92" lengthAdjust="spacingAndGlyphs">20.00%</text>
<line x1="152.8" y1="207.38" x2="248.1" y2="207.38" stroke="#a8a8a8" stroke-width="0.8"/>
<text x="149.8" y="234.86" text-anchor="end" font-size="4.8" font-weight="bold" textLength="14.92" lengthAdjust="spacingAndGlyphs">40.00%</text>
<line x1="152.8" y1="233.16" x2="248.1" y2="233.16" stroke="#a8a8a8" stroke-width="0.8"/>
<text x="149.8" y="260.64" text-anchor="end" font-size="4.8" font-weight="bold" textLength="14.92" lengthAdjust="spacingAndGlyphs">60.00%</text>
<line x1="152.8" y1="258.94" x2="248.1" y2="258.94" stroke="#a8a8a8" stroke-width="0.8"/>
<text x="149.8" y="286.42" text-anchor="end" font-size="4.8" font-weight="bold" textLength="14.92" lengthAdjust="spacingAndGlyphs">80.00%</text>
<line x1="152.8" y1="284.72" x2="248.1" y2="284.72" stroke="#a8a8a8" stroke-width="0.8"/>
<text x="149.8" y="312.2" text-anchor="end" font-size="4.8" font-weight="bold" textLength="17.37" lengthAdjust="spacingAndGlyphs">100.00%</text>
<path d="M248.1,181.6V310.5H152.8" fill="none" stroke="#a0a0a0" stroke-width="0.9"/>
<line x1="152.8" y1="181.6" x2="152.8" y2="310.5" stroke="#a8a8a8" stroke-width="1.5"/>
<line x1="152.8" y1="181.6" x2="248.1" y2="181.6" stroke="#555" stroke-width="0.9"/>
<text x="152.8" y="176.3" text-anchor="middle" font-size="4.8" font-weight="bold" textLength="2.45" lengthAdjust="spacingAndGlyphs">0</text>
<text x="168.68" y="176.3" text-anchor="middle" font-size="4.8" font-weight="bold" textLength="8.56" lengthAdjust="spacingAndGlyphs">0.05</text>
<text x="184.57" y="176.3" text-anchor="middle" font-size="4.8" font-weight="bold" textLength="6.12" lengthAdjust="spacingAndGlyphs">0.1</text>
<text x="200.45" y="176.3" text-anchor="middle" font-size="4.8" font-weight="bold" textLength="8.56" lengthAdjust="spacingAndGlyphs">0.15</text>
<text x="216.33" y="176.3" text-anchor="middle" font-size="4.8" font-weight="bold" textLength="6.12" lengthAdjust="spacingAndGlyphs">0.2</text>
<text x="232.22" y="176.3" text-anchor="middle" font-size="4.8" font-weight="bold" textLength="8.56" lengthAdjust="spacingAndGlyphs">0.25</text>
<text x="248.1" y="176.3" text-anchor="middle" font-size="4.8" font-weight="bold" textLength="6.12" lengthAdjust="spacingAndGlyphs">0.3</text>
<text x="178.1" y="165.05" text-anchor="start" font-size="4.7" font-weight="bold" textLength="43.7" lengthAdjust="spacingAndGlyphs">STI 571+IFN CFU-GM</text>
<text x="187.2" y="170.45" text-anchor="start" font-size="4.7" font-weight="bold" textLength="34.6" lengthAdjust="spacingAndGlyphs">[STI 571 µmol/L]</text>
<text x="0" y="0" text-anchor="middle" font-size="4.4" font-weight="bold" textLength="24.5" lengthAdjust="spacingAndGlyphs" transform="translate(133,245.3) rotate(-90)">% Inhibition</text>
<path d="M152.8,181.6 C158.09,190.47 171.33,221.15 184.57,234.84 C197.8,248.52 224.28,258.9 232.22,263.71" fill="none" stroke="#000" stroke-width="1.1" stroke-linecap="butt"/>
<path d="M152.8,251.85 C158.09,255.63 171.33,269.14 184.57,274.54 C197.8,279.93 224.28,282.59 232.22,284.2" fill="none" stroke="#000" stroke-width="1.05" stroke-dasharray="3.2 1.8" stroke-linecap="butt"/>
<path d="M152.8,261 C158.09,263.6 171.33,271.53 184.57,276.6 C197.8,281.67 224.28,288.95 232.22,291.42" fill="none" stroke="#000" stroke-width="1.1" stroke-linecap="butt"/>
<path d="M152.8,271.31 C158.09,273.12 171.33,278.27 184.57,282.14 C197.8,286.01 224.28,292.45 232.22,294.52" fill="none" stroke="#000" stroke-width="0.9" stroke-dasharray="0.9 1.5" stroke-linecap="butt"/>
<path d="M152.8,264.74 C158.09,269.12 171.33,289.17 184.57,291.04 C197.8,292.91 224.28,278.47 232.22,275.95" fill="none" stroke="#000" stroke-width="1" stroke-dasharray="2.5 1.2 0.7 1.2" stroke-linecap="butt"/>

<path d="M152.8,179.2 L155,183.2 L150.6,183.2Z" fill="#fff" stroke="#000" stroke-width="0.8"/>
<path d="M184.57,232.44 L186.77,236.44 L182.37,236.44Z" fill="#fff" stroke="#000" stroke-width="0.8"/>
<path d="M232.22,261.31 L234.42,265.31 L230.02,265.31Z" fill="#fff" stroke="#000" stroke-width="0.8"/>
<circle cx="152.8" cy="251.85" r="2.2" fill="#000"/>
<circle cx="184.57" cy="274.54" r="2.2" fill="#000"/>
<circle cx="232.22" cy="284.2" r="2.2" fill="#000"/>
<circle cx="152.8" cy="261" r="2.2" fill="#fff" stroke="#000" stroke-width="0.8"/>
<circle cx="184.57" cy="276.6" r="2.2" fill="#fff" stroke="#000" stroke-width="0.8"/>
<circle cx="232.22" cy="291.42" r="2.2" fill="#fff" stroke="#000" stroke-width="0.8"/>
<rect x="151" y="269.51" width="3.6" height="3.6" fill="#fff" stroke="#000" stroke-width="0.8"/>
<rect x="182.77" y="280.34" width="3.6" height="3.6" fill="#fff" stroke="#000" stroke-width="0.8"/>
<rect x="230.42" y="292.72" width="3.6" height="3.6" fill="#fff" stroke="#000" stroke-width="0.8"/>
<path d="M184.57,288.54 L187.07,291.04 L184.57,293.54 L182.07,291.04Z" fill="#000"/>
<path d="M232.22,273.45 L234.72,275.95 L232.22,278.45 L229.72,275.95Z" fill="#000"/>
<circle cx="152.8" cy="264.74" r="2.2" fill="#000"/>
<path d="M185.8,270.9H188.6M187.2,269.5V272.3" stroke="#000" stroke-width="0.9"/>
<path d="M185.8,295.1H188.6M187.2,293.7V296.5" stroke="#000" stroke-width="0.9"/>
<path d="M237.2,290.4H240M238.6,289V291.8" stroke="#000" stroke-width="0.9"/>
<path d="M237.2,295.1H240M238.6,293.7V296.5" stroke="#000" stroke-width="0.9"/>
<rect x="198.5" y="187.5" width="45.5" height="36.2" fill="#fff" stroke="#a0a0a0" stroke-width="0.8"/>
<path d="M201.3,191.1H219.4" fill="none" stroke="#000" stroke-width="0.94" stroke-linecap="butt"/>
<path d="M210,189.06 L211.87,192.46 L208.13,192.46Z" fill="#fff" stroke="#000" stroke-width="0.8"/>
<text x="220.3" y="192.75" text-anchor="start" font-size="4.75" font-weight="bold" class="lg" textLength="20.13" lengthAdjust="spacingAndGlyphs">STI Alone</text>
<path d="M201.3,198.3H219.4" fill="none" stroke="#000" stroke-width="0.89" stroke-dasharray="3.2 1.8" stroke-linecap="butt"/>
<circle cx="210" cy="198.3" r="1.87" fill="#000"/>
<text x="220.3" y="199.95" text-anchor="start" font-size="4.75" font-weight="bold" class="lg" textLength="20.79" lengthAdjust="spacingAndGlyphs">5e3 IU/mL</text>
<path d="M201.3,205.3H219.4" fill="none" stroke="#000" stroke-width="0.94" stroke-linecap="butt"/>
<circle cx="210" cy="205.3" r="1.87" fill="#fff" stroke="#000" stroke-width="0.8"/>
<text x="220.3" y="206.95" text-anchor="start" font-size="4.75" font-weight="bold" class="lg" textLength="20.79" lengthAdjust="spacingAndGlyphs">1e4 IU/mL</text>
<path d="M201.3,212.7H219.4" fill="none" stroke="#000" stroke-width="0.89" stroke-dasharray="3.2 1.8" stroke-linecap="butt"/>
<path d="M210,210.57 L212.12,212.7 L210,214.82 L207.88,212.7Z" fill="#000"/>
<text x="220.3" y="214.35" text-anchor="start" font-size="4.75" font-weight="bold" class="lg" textLength="20.79" lengthAdjust="spacingAndGlyphs">5e4 IU/mL</text>
<path d="M201.3,220.3H219.4" fill="none" stroke="#000" stroke-width="0.77" stroke-dasharray="0.9 1.5" stroke-linecap="butt"/>
<rect x="208.47" y="218.77" width="3.06" height="3.06" fill="#fff" stroke="#000" stroke-width="0.8"/>
<text x="220.3" y="221.95" text-anchor="start" font-size="4.75" font-weight="bold" class="lg" textLength="20.79" lengthAdjust="spacingAndGlyphs">1e5 IU/mL</text>
<text x="292.6" y="181" text-anchor="end" font-size="4.8" font-weight="bold" textLength="12.47" lengthAdjust="spacingAndGlyphs">0.00%</text>
<text x="292.6" y="207.38" text-anchor="end" font-size="4.8" font-weight="bold" textLength="14.92" lengthAdjust="spacingAndGlyphs">20.00%</text>
<line x1="295.6" y1="205.68" x2="387" y2="205.68" stroke="#a8a8a8" stroke-width="0.8"/>
<text x="292.6" y="233.76" text-anchor="end" font-size="4.8" font-weight="bold" textLength="14.92" lengthAdjust="spacingAndGlyphs">40.00%</text>
<line x1="295.6" y1="232.06" x2="387" y2="232.06" stroke="#a8a8a8" stroke-width="0.8"/>
<text x="292.6" y="260.14" text-anchor="end" font-size="4.8" font-weight="bold" textLength="14.92" lengthAdjust="spacingAndGlyphs">60.00%</text>
<line x1="295.6" y1="258.44" x2="387" y2="258.44" stroke="#a8a8a8" stroke-width="0.8"/>
<text x="292.6" y="286.52" text-anchor="end" font-size="4.8" font-weight="bold" textLength="14.92" lengthAdjust="spacingAndGlyphs">80.00%</text>
<line x1="295.6" y1="284.82" x2="387" y2="284.82" stroke="#a8a8a8" stroke-width="0.8"/>
<text x="292.6" y="312.9" text-anchor="end" font-size="4.8" font-weight="bold" textLength="17.37" lengthAdjust="spacingAndGlyphs">100.00%</text>
<path d="M387,179.3V311.2H295.6" fill="none" stroke="#a0a0a0" stroke-width="0.9"/>
<line x1="295.6" y1="179.3" x2="295.6" y2="311.2" stroke="#a8a8a8" stroke-width="1.5"/>
<line x1="295.6" y1="179.3" x2="387" y2="179.3" stroke="#555" stroke-width="0.9"/>
<text x="295.6" y="173.2" text-anchor="middle" font-size="4.8" font-weight="bold" textLength="2.45" lengthAdjust="spacingAndGlyphs">0</text>
<text x="310.83" y="173.2" text-anchor="middle" font-size="4.8" font-weight="bold" textLength="8.56" lengthAdjust="spacingAndGlyphs">0.05</text>
<text x="326.07" y="173.2" text-anchor="middle" font-size="4.8" font-weight="bold" textLength="6.12" lengthAdjust="spacingAndGlyphs">0.1</text>
<text x="341.3" y="173.2" text-anchor="middle" font-size="4.8" font-weight="bold" textLength="8.56" lengthAdjust="spacingAndGlyphs">0.15</text>
<text x="356.53" y="173.2" text-anchor="middle" font-size="4.8" font-weight="bold" textLength="6.12" lengthAdjust="spacingAndGlyphs">0.2</text>
<text x="371.77" y="173.2" text-anchor="middle" font-size="4.8" font-weight="bold" textLength="8.56" lengthAdjust="spacingAndGlyphs">0.25</text>
<text x="387" y="173.2" text-anchor="middle" font-size="4.8" font-weight="bold" textLength="6.12" lengthAdjust="spacingAndGlyphs">0.3</text>
<text x="320.1" y="161.05" text-anchor="start" font-size="4.7" font-weight="bold" textLength="45.8" lengthAdjust="spacingAndGlyphs">STI 571+Ara-C BFU-E</text>
<text x="327.5" y="166.75" text-anchor="start" font-size="4.7" font-weight="bold" textLength="26.9" lengthAdjust="spacingAndGlyphs">[STI 571 uM]</text>
<text x="0" y="0" text-anchor="middle" font-size="4.4" font-weight="bold" textLength="24.5" lengthAdjust="spacingAndGlyphs" transform="translate(273.1,245.7) rotate(-90)">% Inhibition</text>
<path d="M295.6,179.3 C300.68,193.13 313.37,243.95 326.07,262.27 C338.76,280.58 364.15,284.69 371.77,289.17" fill="none" stroke="#000" stroke-width="1.1" stroke-linecap="butt"/>
<path d="M295.6,190.51 C300.68,197.99 313.37,218.91 326.07,235.36 C338.76,251.8 364.15,280.2 371.77,289.17" fill="none" stroke="#000" stroke-width="1.5" stroke-dasharray="3.5 1.8" stroke-linecap="butt"/>

<path d="M295.6,243.67 C300.68,250.7 313.37,274.69 326.07,285.88 C338.76,297.06 364.15,306.65 371.77,310.8" fill="none" stroke="#000" stroke-width="1.1" stroke-linecap="butt"/>
<path d="M295.6,297.35 C300.68,298.93 313.37,304.54 326.07,306.85 C338.76,309.16 364.15,310.47 371.77,311.2" fill="none" stroke="#000" stroke-width="0.9" stroke-dasharray="0.9 1.5" stroke-linecap="butt"/>
<path d="M295.6,311.2 C300.68,311.2 313.37,311.2 326.07,311.2 C338.76,311.2 364.15,311.2 371.77,311.2" fill="none" stroke="#000" stroke-width="1.3" stroke-dasharray="2.5 1.3 0.9 1.3" stroke-linecap="butt"/>
<path d="M295.6,176.9 L297.8,180.9 L293.4,180.9Z" fill="#fff" stroke="#000" stroke-width="0.8"/>
<path d="M326.07,259.87 L328.27,263.87 L323.87,263.87Z" fill="#fff" stroke="#000" stroke-width="0.8"/>
<path d="M371.77,286.77 L373.97,290.77 L369.57,290.77Z" fill="#fff" stroke="#000" stroke-width="0.8"/>
<path d="M326.07,232.86 L328.57,235.36 L326.07,237.86 L323.57,235.36Z" fill="#000"/>
<path d="M371.77,286.67 L374.27,289.17 L371.77,291.67 L369.27,289.17Z" fill="#000"/>
<circle cx="295.6" cy="190.51" r="2.2" fill="#000"/>
<rect x="293.55" y="241.62" width="4.1" height="4.1" fill="#000"/>
<rect x="324.02" y="283.83" width="4.1" height="4.1" fill="#000"/>
<rect x="369.72" y="308.75" width="4.1" height="4.1" fill="#000"/>
<circle cx="295.6" cy="297.35" r="2.2" fill="#fff" stroke="#000" stroke-width="0.8"/>
<circle cx="326.07" cy="306.85" r="2.2" fill="#fff" stroke="#000" stroke-width="0.8"/>
<circle cx="371.77" cy="311.2" r="2.2" fill="#fff" stroke="#000" stroke-width="0.8"/>
<circle cx="295.6" cy="311.2" r="2.2" fill="#000"/>
<circle cx="326.07" cy="311.2" r="2.2" fill="#000"/>
<circle cx="371.77" cy="311.2" r="2.2" fill="#000"/>
<circle cx="377" cy="309" r="0.8" fill="#000"/>
<circle cx="331" cy="285" r="0.8" fill="#000"/>
<path d="M318.1,308.5H320.9M319.5,307.1V309.9" stroke="#000" stroke-width="0.9"/>
<circle cx="331" cy="300" r="0.8" fill="#000"/>
<rect x="340.3" y="183.3" width="40.4" height="35.1" fill="#fff" stroke="#a0a0a0" stroke-width="0.8"/>
<path d="M341.3,187.1H359.4" fill="none" stroke="#000" stroke-width="0.94" stroke-linecap="butt"/>
<path d="M350,185.06 L351.87,188.46 L348.13,188.46Z" fill="#fff" stroke="#000" stroke-width="0.8"/>
<text x="360" y="188.75" text-anchor="start" font-size="4.75" font-weight="bold" class="lg" textLength="20.13" lengthAdjust="spacingAndGlyphs">STI Alone</text>
<path d="M341.3,193.6H359.4" fill="none" stroke="#000" stroke-width="1.27" stroke-dasharray="3.5 1.8" stroke-linecap="butt"/>
<circle cx="350" cy="193.6" r="1.87" fill="#000"/>
<text x="360" y="195.25" text-anchor="start" font-size="4.75" font-weight="bold" class="lg" textLength="18.09" lengthAdjust="spacingAndGlyphs">1 nmol/L</text>
<path d="M341.3,200.6H359.4" fill="none" stroke="#000" stroke-width="0.77" stroke-dasharray="0.9 1.5" stroke-linecap="butt"/>
<circle cx="350" cy="200.6" r="1.87" fill="#fff" stroke="#000" stroke-width="0.8"/>
<text x="360" y="202.25" text-anchor="start" font-size="4.75" font-weight="bold" class="lg" textLength="18.09" lengthAdjust="spacingAndGlyphs">2 nmol/L</text>
<path d="M341.3,207.7H359.4" fill="none" stroke="#000" stroke-width="1.53" stroke-linecap="butt"/>
<circle cx="350" cy="207.7" r="1.87" fill="#000"/>
<text x="360" y="209.35" text-anchor="start" font-size="4.75" font-weight="bold" class="lg" textLength="18.09" lengthAdjust="spacingAndGlyphs">4 nmol/L</text>
<path d="M341.3,214.9H359.4" fill="none" stroke="#000" stroke-width="1.53" stroke-linecap="butt"/>
<circle cx="350" cy="214.9" r="1.87" fill="#000"/>
<text x="360" y="216.55" text-anchor="start" font-size="4.75" font-weight="bold" class="lg" textLength="18.09" lengthAdjust="spacingAndGlyphs">5 nmol/L</text>
<text x="421.1" y="182" text-anchor="end" font-size="4.8" font-weight="bold" textLength="12.47" lengthAdjust="spacingAndGlyphs">0.00%</text>
<text x="421.1" y="208.26" text-anchor="end" font-size="4.8" font-weight="bold" textLength="14.92" lengthAdjust="spacingAndGlyphs">20.00%</text>
<line x1="424.1" y1="206.56" x2="514.5" y2="206.56" stroke="#a8a8a8" stroke-width="0.8"/>
<text x="421.1" y="234.52" text-anchor="end" font-size="4.8" font-weight="bold" textLength="14.92" lengthAdjust="spacingAndGlyphs">40.00%</text>
<line x1="424.1" y1="232.82" x2="514.5" y2="232.82" stroke="#a8a8a8" stroke-width="0.8"/>
<text x="421.1" y="260.78" text-anchor="end" font-size="4.8" font-weight="bold" textLength="14.92" lengthAdjust="spacingAndGlyphs">60.00%</text>
<line x1="424.1" y1="259.08" x2="514.5" y2="259.08" stroke="#a8a8a8" stroke-width="0.8"/>
<text x="421.1" y="287.04" text-anchor="end" font-size="4.8" font-weight="bold" textLength="14.92" lengthAdjust="spacingAndGlyphs">80.00%</text>
<line x1="424.1" y1="285.34" x2="514.5" y2="285.34" stroke="#a8a8a8" stroke-width="0.8"/>
<text x="421.1" y="313.3" text-anchor="end" font-size="4.8" font-weight="bold" textLength="17.37" lengthAdjust="spacingAndGlyphs">100.00%</text>
<path d="M514.5,180.3V311.6H424.1" fill="none" stroke="#a0a0a0" stroke-width="0.9"/>
<line x1="424.1" y1="180.3" x2="424.1" y2="311.6" stroke="#a8a8a8" stroke-width="1.5"/>
<line x1="424.1" y1="180.3" x2="514.5" y2="180.3" stroke="#555" stroke-width="0.9"/>
<text x="424.1" y="175.3" text-anchor="middle" font-size="4.8" font-weight="bold" textLength="2.45" lengthAdjust="spacingAndGlyphs">0</text>
<text x="439.17" y="175.3" text-anchor="middle" font-size="4.8" font-weight="bold" textLength="8.56" lengthAdjust="spacingAndGlyphs">0.05</text>
<text x="454.23" y="175.3" text-anchor="middle" font-size="4.8" font-weight="bold" textLength="6.12" lengthAdjust="spacingAndGlyphs">0.1</text>
<text x="469.3" y="175.3" text-anchor="middle" font-size="4.8" font-weight="bold" textLength="8.56" lengthAdjust="spacingAndGlyphs">0.15</text>
<text x="484.37" y="175.3" text-anchor="middle" font-size="4.8" font-weight="bold" textLength="6.12" lengthAdjust="spacingAndGlyphs">0.2</text>
<text x="499.43" y="175.3" text-anchor="middle" font-size="4.8" font-weight="bold" textLength="8.56" lengthAdjust="spacingAndGlyphs">0.25</text>
<text x="514.5" y="175.3" text-anchor="middle" font-size="4.8" font-weight="bold" textLength="6.12" lengthAdjust="spacingAndGlyphs">0.3</text>
<text x="448.1" y="164.05" text-anchor="start" font-size="4.7" font-weight="bold" textLength="45.1" lengthAdjust="spacingAndGlyphs">STI 571+Ara-C CFU-GM</text>
<text x="456.2" y="169.15" text-anchor="start" font-size="4.7" font-weight="bold" textLength="26.6" lengthAdjust="spacingAndGlyphs">[STI 571 uM]</text>
<text x="0" y="0" text-anchor="middle" font-size="4.4" font-weight="bold" textLength="24.5" lengthAdjust="spacingAndGlyphs" transform="translate(401.8,245.7) rotate(-90)">% Inhibition</text>
<path d="M424.1,180.3 C429.12,189.43 441.68,221.44 454.23,235.05 C466.79,248.66 491.9,257.48 499.43,261.97" fill="none" stroke="#000" stroke-width="1.4" stroke-linecap="butt"/>

<path d="M424.1,212.34 C429.12,221.53 441.68,259.08 454.23,267.48 C466.79,275.89 491.9,263.54 499.43,262.76" fill="none" stroke="#000" stroke-width="0.9" stroke-dasharray="0.9 1.5" stroke-linecap="butt"/>
<path d="M424.1,212.34 C429.12,215.4 441.68,219.45 454.23,230.72 C466.79,241.99 491.9,271.75 499.43,279.96" fill="none" stroke="#000" stroke-width="1.05" stroke-dasharray="3.2 1.8" stroke-linecap="butt"/>
<path d="M424.1,246.48 C429.12,251.81 441.68,270.7 454.23,278.51 C466.79,286.32 491.9,290.88 499.43,293.35" fill="none" stroke="#000" stroke-width="1.1" stroke-linecap="butt"/>
<path d="M424.1,263.94 C429.12,265.32 441.68,269.54 454.23,272.21 C466.79,274.88 491.9,278.67 499.43,279.96" fill="none" stroke="#000" stroke-width="1.05" stroke-dasharray="3.2 1.8" stroke-linecap="butt"/>
<path d="M454.23,232.65 L456.43,236.65 L452.03,236.65Z" fill="#fff" stroke="#000" stroke-width="0.8"/>
<path d="M499.43,259.57 L501.63,263.57 L497.23,263.57Z" fill="#fff" stroke="#000" stroke-width="0.8"/>
<path d="M424.1,177.9 L426.3,181.9 L421.9,181.9Z" fill="#000"/>
<path d="M424.1,209.84 L426.6,212.34 L424.1,214.84 L421.6,212.34Z" fill="#000"/>
<path d="M454.23,264.98 L456.73,267.48 L454.23,269.98 L451.73,267.48Z" fill="#000"/>
<path d="M499.43,260.26 L501.93,262.76 L499.43,265.26 L496.93,262.76Z" fill="#000"/>
<circle cx="424.1" cy="212.34" r="2.2" fill="#000"/>
<circle cx="454.23" cy="230.72" r="2.2" fill="#000"/>
<circle cx="499.43" cy="279.96" r="2.2" fill="#000"/>
<circle cx="424.1" cy="246.48" r="2.2" fill="#fff" stroke="#000" stroke-width="0.8"/>
<circle cx="454.23" cy="278.51" r="2.2" fill="#fff" stroke="#000" stroke-width="0.8"/>
<circle cx="499.43" cy="293.35" r="2.2" fill="#fff" stroke="#000" stroke-width="0.8"/>
<rect x="422.05" y="261.89" width="4.1" height="4.1" fill="#000"/>
<rect x="452.18" y="270.16" width="4.1" height="4.1" fill="#000"/>
<rect x="497.38" y="277.91" width="4.1" height="4.1" fill="#000"/>
<circle cx="504" cy="292" r="0.8" fill="#000"/>
<circle cx="459" cy="265" r="0.8" fill="#000"/>
<path d="M454.6,283H457.4M456,281.6V284.4" stroke="#000" stroke-width="0.9"/>
<rect x="468.3" y="184.3" width="41.4" height="35.2" fill="#fff" stroke="#a0a0a0" stroke-width="0.8"/>
<path d="M470,188H488" fill="none" stroke="#000" stroke-width="0.94" stroke-linecap="butt"/>
<path d="M478.6,185.96 L480.47,189.36 L476.73,189.36Z" fill="#fff" stroke="#000" stroke-width="0.8"/>
<text x="488.8" y="189.65" text-anchor="start" font-size="4.75" font-weight="bold" class="lg" textLength="20.13" lengthAdjust="spacingAndGlyphs">STI Alone</text>
<path d="M470,195.4H488" fill="none" stroke="#000" stroke-width="0.77" stroke-dasharray="0.9 1.5" stroke-linecap="butt"/>
<path d="M478.6,193.28 L480.73,195.4 L478.6,197.53 L476.48,195.4Z" fill="#000"/>
<text x="488.8" y="197.05" text-anchor="start" font-size="4.75" font-weight="bold" class="lg" textLength="18.09" lengthAdjust="spacingAndGlyphs">1 nmol/L</text>
<path d="M470,202H488" fill="none" stroke="#000" stroke-width="0.89" stroke-dasharray="3.2 1.8" stroke-linecap="butt"/>
<path d="M478.6,199.88 L480.73,202 L478.6,204.12 L476.48,202Z" fill="#000"/>
<text x="488.8" y="203.65" text-anchor="start" font-size="4.75" font-weight="bold" class="lg" textLength="18.09" lengthAdjust="spacingAndGlyphs">2 nmol/L</text>
<path d="M470,208.9H488" fill="none" stroke="#000" stroke-width="0.94" stroke-linecap="butt"/>
<circle cx="478.6" cy="208.9" r="1.87" fill="#fff" stroke="#000" stroke-width="0.8"/>
<text x="488.8" y="210.55" text-anchor="start" font-size="4.75" font-weight="bold" class="lg" textLength="18.09" lengthAdjust="spacingAndGlyphs">4 nmol/L</text>
<path d="M470,215.6H488" fill="none" stroke="#000" stroke-width="0.89" stroke-dasharray="3.2 1.8" stroke-linecap="butt"/>
<rect x="476.86" y="213.86" width="3.48" height="3.48" fill="#000"/>
<text x="488.8" y="217.25" text-anchor="start" font-size="4.75" font-weight="bold" class="lg" textLength="18.09" lengthAdjust="spacingAndGlyphs">5 nmol/L</text>
</svg>
</body></html>
